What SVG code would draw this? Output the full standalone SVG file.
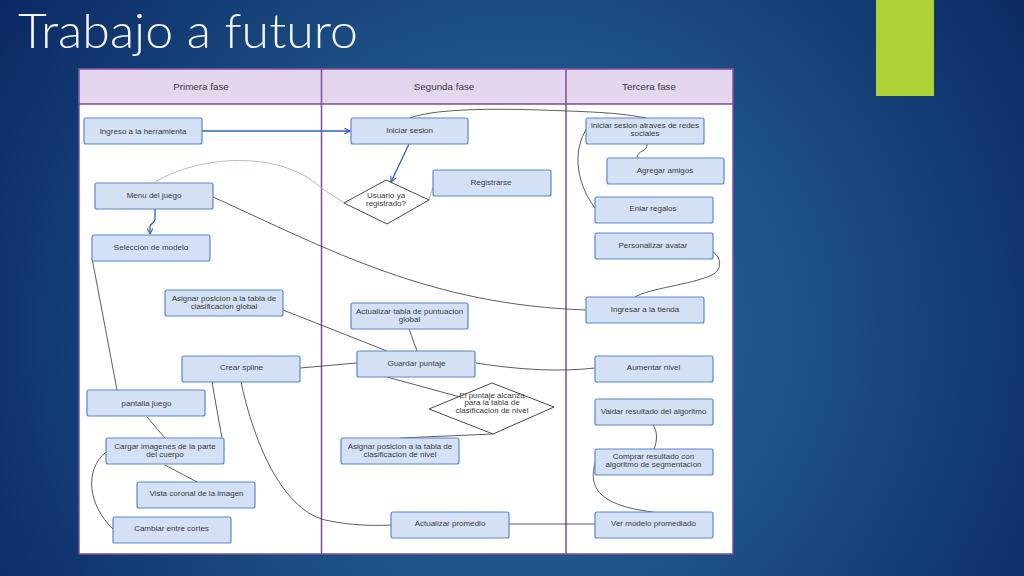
<svg xmlns="http://www.w3.org/2000/svg" width="1024" height="576" viewBox="0 0 1024 576">
<defs>
<radialGradient id="bg" cx="520" cy="330" r="620" gradientUnits="userSpaceOnUse">
<stop offset="0" stop-color="#2b6a99"/>
<stop offset="0.45" stop-color="#1d5287"/>
<stop offset="1" stop-color="#0b2863"/>
</radialGradient>
<marker id="arr" viewBox="0 0 10 10" refX="9" refY="5" markerWidth="7" markerHeight="7" orient="auto" markerUnits="userSpaceOnUse">
<path d="M1,1 L9,5 L1,9" fill="none" stroke="#2f62b8" stroke-width="1.6"/>
</marker>
<style>
.n rect{fill:#d4e0f4;stroke:#5b87cc;stroke-width:1.2}
.n text,.d text{font-family:"Liberation Sans",Arial,sans-serif;font-size:8px;fill:#3a3a3a;text-anchor:middle}
.d polygon{fill:#fff;stroke:#333;stroke-width:0.9}
.hd{font-family:"Liberation Sans",Arial,sans-serif;font-size:9.8px;fill:#3a3a3a;text-anchor:middle}
.c path{fill:none;stroke:#333;stroke-width:0.8}
.c .b{stroke:#2f62b8;stroke-width:1.3}
.c .l{stroke:#aebdd0;stroke-width:1}
</style>
</defs>
<rect width="1024" height="576" fill="url(#bg)"/>
<rect x="876" y="0" width="58" height="96" fill="#aed136"/>
<text x="18" y="48" font-family="Lato,'Liberation Sans',Arial,sans-serif" font-weight="300" font-size="47" fill="#f4f6fa" textLength="340" lengthAdjust="spacingAndGlyphs">Trabajo a futuro</text>

<g id="table">
<rect x="79" y="69" width="654" height="485" fill="#fff" stroke="#7b4f9d" stroke-width="1.5"/>
<rect x="79" y="69" width="654" height="35" fill="#e4d6ec" stroke="#7b4f9d" stroke-width="1.5"/>
<line x1="321.5" y1="69" x2="321.5" y2="554" stroke="#7b4f9d" stroke-width="1.5"/>
<line x1="566" y1="69" x2="566" y2="554" stroke="#7b4f9d" stroke-width="1.5"/>
<text class="hd" x="201" y="90">Primera fase</text>
<text class="hd" x="444" y="90">Segunda fase</text>
<text class="hd" x="649" y="90">Tercera fase</text>
</g>

<g id="connectors" class="c">
<path class="b" d="M202,131 L350,131" marker-end="url(#arr)"/>
<path class="b" d="M409,144 L391,182" marker-end="url(#arr)"/>
<path class="b" d="M155,209 L155,219 C155,224 149,223 150,228 L150,234" marker-end="url(#arr)"/>
<path class="l" d="M155,182 C200,155 280,150 320,187 L344,203"/>
<path class="l" d="M429,200 L433,187"/>
<path d="M213,197 C330,250 430,305 587,310"/>
<path d="M410,118 C430,110 480,108 540,110 S620,113 646,118"/>
<path d="M647,144 C648,152 637,150 637,158"/>
<path d="M591,123 C572,145 574,180 595,208"/>
<path d="M713,252 C722,258 722,270 712,275 C690,285 650,288 635,297"/>
<path d="M92,258 L117,390"/>
<path d="M147,417 L165,438"/>
<path d="M165,465 L197,482"/>
<path d="M106,452 C84,470 88,505 113,529"/>
<path d="M212,382 L224,450"/>
<path d="M241,382 C258,460 290,515 330,521 C350,525 370,526 391,525"/>
<path d="M300,368 L357,363"/>
<path d="M283,310 L387,351"/>
<path d="M409,329 L417,351"/>
<path d="M476,363 C520,370 560,372 595,368"/>
<path d="M387,377 L460,397"/>
<path d="M493,434 L400,438"/>
<path d="M509,524 L595,524"/>
<path d="M653,425 C658,432 657,442 654,449"/>
<path d="M596,460 C588,485 595,505 653,512"/>
</g>

<g id="ingreso" class="n"><rect x="84" y="118" width="118" height="26" rx="2"/><text x="143" y="133.5">Ingreso a la herramienta</text></g>
<g id="menu" class="n"><rect x="95" y="183" width="118" height="26" rx="2"/><text x="154" y="198">Menu del juego</text></g>
<g id="seleccion" class="n"><rect x="92" y="235" width="118" height="26" rx="2"/><text x="151" y="250">Seleccion de modelo</text></g>
<g id="asignar-global" class="n"><rect x="165" y="290" width="118" height="26" rx="2"/><text x="224" y="301">Asignar posicion a la tabla de</text><text x="224" y="309">clasificacion global</text></g>
<g id="crear-spline" class="n"><rect x="182" y="356" width="118" height="26" rx="2"/><text x="241.5" y="370">Crear spline</text></g>
<g id="pantalla" class="n"><rect x="87" y="390" width="118" height="26" rx="2"/><text x="146.5" y="405.5">pantalla juego</text></g>
<g id="cargar" class="n"><rect x="106" y="438" width="118" height="26" rx="2"/><text x="165" y="449">Cargar imagenes de la parte</text><text x="165" y="457">del cuerpo</text></g>
<g id="vista" class="n"><rect x="137" y="482" width="118" height="26" rx="2"/><text x="196.5" y="496">Vista coronal de la imagen</text></g>
<g id="cambiar" class="n"><rect x="113" y="517" width="118" height="26" rx="2"/><text x="171.5" y="531">Cambiar entre cortes</text></g>

<g id="iniciar" class="n"><rect x="351" y="118" width="117" height="26" rx="2"/><text x="409.5" y="132.5">Iniciar sesion</text></g>
<g id="usuario" class="d"><polygon points="344,203 386,180 429,200 387,224"/><text x="386" y="198">Usuario ya</text><text x="386" y="206">registrado?</text></g>
<g id="registrarse" class="n"><rect x="433" y="170" width="118" height="26" rx="2"/><text x="491" y="184.5">Registrarse</text></g>
<g id="actualizar-tabla" class="n"><rect x="351" y="303" width="117" height="26" rx="2"/><text x="409.5" y="313.5">Actualizar tabla de puntuacion</text><text x="409.5" y="321.5">global</text></g>
<g id="guardar" class="n"><rect x="357" y="351" width="118" height="26" rx="2"/><text x="416.5" y="366">Guardar puntaje</text></g>
<g id="puntaje" class="d"><polygon points="429,409 492,383 554,407 493,434"/><text x="492" y="397.5">El puntaje alcanza</text><text x="492" y="405">para la tabla de</text><text x="492" y="412.5">clasificacion de nivel</text></g>
<g id="asignar-nivel" class="n"><rect x="341" y="438" width="118" height="26" rx="2"/><text x="400" y="449">Asignar posicion a la tabla de</text><text x="400" y="457">clasificacion de nivel</text></g>
<g id="actualizar-promedio" class="n"><rect x="391" y="512" width="118" height="26" rx="2"/><text x="450" y="525.5">Actualizar promedio</text></g>

<g id="redes" class="n"><rect x="586" y="118" width="118" height="26" rx="2"/><text x="645" y="127.5">iniciar sesion atraves de redes</text><text x="645" y="135.5">sociales</text></g>
<g id="agregar" class="n"><rect x="607" y="158" width="117" height="26" rx="2"/><text x="665" y="173">Agregar amigos</text></g>
<g id="regalos" class="n"><rect x="595" y="197" width="118" height="26" rx="2"/><text x="653" y="210.5">Eniar regalos</text></g>
<g id="avatar" class="n"><rect x="595" y="233" width="118" height="26" rx="2"/><text x="653" y="247.5">Personalizar avatar</text></g>
<g id="tienda" class="n"><rect x="586" y="297" width="118" height="26" rx="2"/><text x="645" y="311.5">Ingresar a la tienda</text></g>
<g id="aumentar" class="n"><rect x="595" y="356" width="118" height="26" rx="2"/><text x="653.5" y="370">Aumentar nivel</text></g>
<g id="vaidar" class="n"><rect x="595" y="399" width="118" height="26" rx="2"/><text x="653.5" y="413.5">Vaidar resultado del algoritmo</text></g>
<g id="comprar" class="n"><rect x="595" y="449" width="118" height="26" rx="2"/><text x="653.5" y="458.5">Comprar resultado con</text><text x="653.5" y="467">algoritmo de segmentacion</text></g>
<g id="ver-modelo" class="n"><rect x="595" y="512" width="118" height="26" rx="2"/><text x="653.5" y="525.5">Ver modelo promediado</text></g>
</svg>
